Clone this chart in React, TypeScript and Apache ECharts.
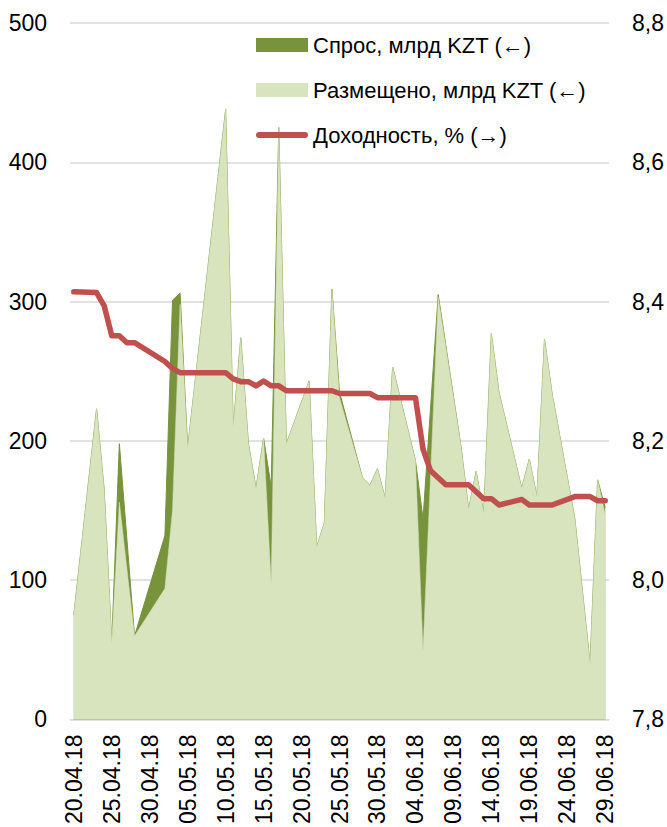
import React, { useEffect, useRef } from "react";
import * as echarts from "echarts";

const categories: string[] = [
  "20.04.18", "21.04.18", "22.04.18", "23.04.18", "24.04.18", "25.04.18", "26.04.18", "27.04.18", "28.04.18", "29.04.18", "30.04.18",
  "01.05.18", "02.05.18", "03.05.18", "04.05.18", "05.05.18", "06.05.18", "07.05.18", "08.05.18", "09.05.18", "10.05.18",
  "11.05.18", "12.05.18", "13.05.18", "14.05.18", "15.05.18", "16.05.18", "17.05.18", "18.05.18", "19.05.18", "20.05.18",
  "21.05.18", "22.05.18", "23.05.18", "24.05.18", "25.05.18", "26.05.18", "27.05.18", "28.05.18", "29.05.18", "30.05.18",
  "31.05.18", "01.06.18", "02.06.18", "03.06.18", "04.06.18", "05.06.18", "06.06.18", "07.06.18", "08.06.18", "09.06.18",
  "10.06.18", "11.06.18", "12.06.18", "13.06.18", "14.06.18", "15.06.18", "16.06.18", "17.06.18", "18.06.18", "19.06.18",
  "20.06.18", "21.06.18", "22.06.18", "23.06.18", "24.06.18", "25.06.18", "26.06.18", "27.06.18", "28.06.18", "29.06.18",
];

const placedDates = [
  "20.04.18", "23.04.18", "24.04.18", "25.04.18", "26.04.18", "28.04.18", "02.05.18", "03.05.18", "04.05.18", "05.05.18",
  "10.05.18", "11.05.18", "12.05.18", "13.05.18", "14.05.18", "15.05.18", "16.05.18", "17.05.18", "18.05.18", "21.05.18",
  "22.05.18", "23.05.18", "24.05.18", "25.05.18", "28.05.18", "29.05.18", "30.05.18", "31.05.18", "01.06.18", "04.06.18",
  "05.06.18", "07.06.18", "10.06.18", "11.06.18", "12.06.18", "13.06.18", "14.06.18", "15.06.18", "18.06.18", "19.06.18",
  "20.06.18", "21.06.18", "22.06.18", "25.06.18", "27.06.18", "28.06.18", "29.06.18",
];
const placedValues = [
  75, 223, 165, 55, 156, 60, 94, 150, 298, 195,
  438, 210, 274, 198, 166, 202, 97, 425, 198, 243,
  124, 141, 309, 231, 174, 168, 180, 159, 253, 186,
  49, 303, 196, 151, 178, 148, 277, 235, 166, 187,
  160, 273, 234, 144, 40, 172, 147,
];
const demandValues = [
  75, 223, 165, 55, 198, 60, 132, 301, 306, 195,
  438, 210, 274, 198, 166, 202, 167, 425, 198, 243,
  124, 141, 309, 235, 174, 168, 180, 159, 253, 186,
  144, 305, 196, 151, 178, 148, 277, 235, 166, 187,
  160, 273, 234, 144, 40, 172, 152,
];

const yieldDates = [
  "20.04.18", "23.04.18", "24.04.18", "25.04.18", "26.04.18", "27.04.18", "28.04.18", "02.05.18", "03.05.18", "04.05.18",
  "10.05.18", "11.05.18", "12.05.18", "13.05.18", "14.05.18", "15.05.18", "16.05.18", "17.05.18", "18.05.18", "24.05.18",
  "25.05.18", "29.05.18", "30.05.18", "04.06.18", "05.06.18", "06.06.18", "08.06.18", "11.06.18", "13.06.18", "14.06.18",
  "15.06.18", "18.06.18", "19.06.18", "22.06.18", "25.06.18", "27.06.18", "28.06.18", "29.06.18",
];
const yieldValues = [
  8.414, 8.413, 8.394, 8.351, 8.351, 8.341, 8.341, 8.314, 8.304, 8.298,
  8.298, 8.289, 8.285, 8.285, 8.279, 8.286, 8.279, 8.279, 8.272, 8.272,
  8.268, 8.268, 8.262, 8.262, 8.188, 8.157, 8.137, 8.137, 8.117, 8.117,
  8.108, 8.116, 8.108, 8.108, 8.12, 8.12, 8.114, 8.114,
];

const leftTicks = { min: 0, max: 500, interval: 100 };
const rightTicks = { min: 7.8, max: 8.8, interval: 0.2 };

const NAMES = ["Спрос, млрд KZT (←)", "Размещено, млрд KZT (←)", "Доходность, % (→)"];
const COLORS = { demand: "#77933C", placed: "#D7E4BD", yield: "#C0504D", grid: "#D9D9D9" };
const FONT = "'Liberation Sans', Arial, sans-serif";
const LINE_ICON = "path://M3,0 L49,0 A3,3 0 0 1 49,6 L3,6 A3,3 0 0 1 3,0 Z";

export default function App() {
  const ref = useRef<HTMLDivElement>(null);
  useEffect(() => {
    if (!ref.current) return;
    const chart = echarts.init(ref.current, undefined, { renderer: "svg" });
    const pair = (d: string[], v: number[]) => d.map((x, i) => [x, v[i]]);
    chart.setOption({
      animation: false,
      textStyle: { fontFamily: FONT },
      grid: { left: 70, right: 57, top: 23, bottom: 104, containLabel: false },
      legend: {
        orient: "vertical",
        left: 256,
        top: 34,
        padding: 0,
        itemWidth: 52,
        itemHeight: 14,
        itemGap: 23,
        textStyle: { fontFamily: FONT, fontSize: 22, color: "#000" },
        data: [
          { name: NAMES[0], icon: "rect" },
          { name: NAMES[1], icon: "rect" },
          { name: NAMES[2], icon: LINE_ICON },
        ],
      },
      xAxis: {
        type: "category",
        data: categories,
        boundaryGap: true,
        axisTick: { show: false },
        axisLine: { show: true, lineStyle: { color: COLORS.grid, width: 1 } },
        axisLabel: {
          interval: 4,
          rotate: 90,
          margin: 15,
          fontFamily: FONT,
          fontSize: 23,
          color: "#000",
        },
        splitLine: { show: false },
      },
      yAxis: [
        {
          type: "value",
          ...leftTicks,
          axisLine: { show: false },
          axisTick: { show: false },
          axisLabel: { margin: 23, fontFamily: FONT, fontSize: 23, color: "#000" },
          splitLine: { show: true, lineStyle: { color: COLORS.grid, width: 1.5 } },
        },
        {
          type: "value",
          ...rightTicks,
          axisLine: { show: false },
          axisTick: { show: false },
          axisLabel: {
            margin: 23,
            fontFamily: FONT,
            fontSize: 23,
            color: "#000",
            formatter: (v: number) => v.toFixed(1).replace(".", ","),
          },
          splitLine: { show: false },
        },
      ],
      series: [
        {
          name: NAMES[0],
          type: "line",
          yAxisIndex: 0,
          data: pair(placedDates, demandValues),
          symbol: "none",
          itemStyle: { color: COLORS.demand },
          lineStyle: { color: COLORS.demand, width: 1 },
          areaStyle: { color: COLORS.demand, opacity: 1 },
          z: 1,
        },
        {
          name: NAMES[1],
          type: "line",
          yAxisIndex: 0,
          data: pair(placedDates, placedValues),
          symbol: "none",
          itemStyle: { color: COLORS.placed },
          lineStyle: { color: COLORS.placed, width: 0.5 },
          areaStyle: { color: COLORS.placed, opacity: 1 },
          z: 2,
        },
        {
          name: NAMES[2],
          type: "line",
          yAxisIndex: 1,
          data: pair(yieldDates, yieldValues),
          symbol: "none",
          itemStyle: { color: COLORS.yield },
          lineStyle: { color: COLORS.yield, width: 5.5, cap: "round", join: "round" },
          z: 3,
        },
      ],
    });
    return () => chart.dispose();
  }, []);
  return (
    <div
      ref={ref}
      style={{ position: "absolute", left: 0, top: 0, width: 667, height: 827, background: "#fff" }}
    />
  );
}
